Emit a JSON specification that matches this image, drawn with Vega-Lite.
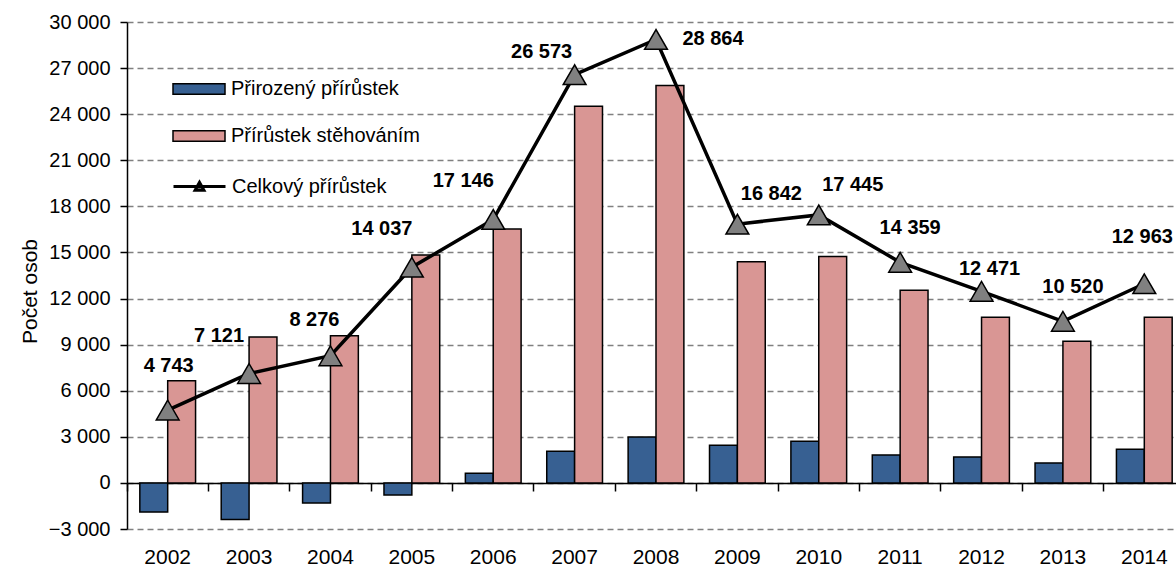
{
  "$schema": "https://vega.github.io/schema/vega-lite/v6.json",
  "width": 1049,
  "height": 507,
  "autosize": {"type": "none"},
  "padding": {"left": 127, "top": 22, "right": 0, "bottom": 37},
  "background": "white",
  "config": {
    "font": "Liberation Sans",
    "locale": {"number": {"decimal": ",", "thousands": " ", "grouping": [3], "currency": ["", " Kč"]}},
    "view": {"stroke": null}
  },
  "datasets": {
    "bars": [
      {"year": "2002", "series": "Přirozený přírůstek", "value": -1900},
      {"year": "2002", "series": "Přírůstek stěhováním", "value": 6643},
      {"year": "2003", "series": "Přirozený přírůstek", "value": -2380},
      {"year": "2003", "series": "Přírůstek stěhováním", "value": 9501},
      {"year": "2004", "series": "Přirozený přírůstek", "value": -1310},
      {"year": "2004", "series": "Přírůstek stěhováním", "value": 9586},
      {"year": "2005", "series": "Přirozený přírůstek", "value": -790},
      {"year": "2005", "series": "Přírůstek stěhováním", "value": 14827},
      {"year": "2006", "series": "Přirozený přírůstek", "value": 625},
      {"year": "2006", "series": "Přírůstek stěhováním", "value": 16521},
      {"year": "2007", "series": "Přirozený přírůstek", "value": 2056},
      {"year": "2007", "series": "Přírůstek stěhováním", "value": 24517},
      {"year": "2008", "series": "Přirozený přírůstek", "value": 2993},
      {"year": "2008", "series": "Přírůstek stěhováním", "value": 25871},
      {"year": "2009", "series": "Přirozený přírůstek", "value": 2446},
      {"year": "2009", "series": "Přírůstek stěhováním", "value": 14396},
      {"year": "2010", "series": "Přirozený přírůstek", "value": 2707},
      {"year": "2010", "series": "Přírůstek stěhováním", "value": 14738},
      {"year": "2011", "series": "Přirozený přírůstek", "value": 1822},
      {"year": "2011", "series": "Přírůstek stěhováním", "value": 12537},
      {"year": "2012", "series": "Přirozený přírůstek", "value": 1692},
      {"year": "2012", "series": "Přírůstek stěhováním", "value": 10779},
      {"year": "2013", "series": "Přirozený přírůstek", "value": 1301},
      {"year": "2013", "series": "Přírůstek stěhováním", "value": 9219},
      {"year": "2014", "series": "Přirozený přírůstek", "value": 2186},
      {"year": "2014", "series": "Přírůstek stěhováním", "value": 10777}
    ],
    "totals": [
      {"year": "2002", "total": 4743},
      {"year": "2003", "total": 7121},
      {"year": "2004", "total": 8276},
      {"year": "2005", "total": 14037},
      {"year": "2006", "total": 17146},
      {"year": "2007", "total": 26573},
      {"year": "2008", "total": 28864},
      {"year": "2009", "total": 16842},
      {"year": "2010", "total": 17445},
      {"year": "2011", "total": 14359},
      {"year": "2012", "total": 12471},
      {"year": "2013", "total": 10520},
      {"year": "2014", "total": 12963}
    ]
  },
  "encoding": {
    "x": {
      "field": "year", "type": "nominal",
      "scale": {"range": [0, 1058], "paddingInner": 0, "paddingOuter": 0},
      "axis": {
        "orient": "bottom", "offset": -46, "title": null, "grid": false,
        "labelAngle": 0, "labelFontSize": 21, "labelColor": "black", "labelPadding": 55,
        "domainColor": "black", "domainWidth": 1.5,
        "ticks": true, "bandPosition": 0, "tickColor": "black", "tickSize": 8, "tickWidth": 1.5
      }
    }
  },
  "layer": [
    {
      "data": {"name": "bars"},
      "mark": {"type": "bar", "stroke": "black", "strokeWidth": 1.5},
      "encoding": {
        "xOffset": {"field": "series", "type": "nominal", "sort": ["Přirozený přírůstek", "Přírůstek stěhováním"], "scale": {"paddingInner": 0, "paddingOuter": 0.46}},
        "y": {
          "field": "value", "type": "quantitative",
          "scale": {"domain": [-3000, 30000], "nice": false, "zero": false},
          "axis": {
            "values": [-3000, 0, 3000, 6000, 9000, 12000, 15000, 18000, 21000, 24000, 27000, 30000],
            "format": ",d",
            "grid": true, "gridDash": [6, 4], "gridColor": "#808080", "gridWidth": 1.3,
            "domainColor": "black", "domainWidth": 1.5,
            "tickColor": "black", "tickSize": 7, "tickWidth": 1.5,
            "labelFontSize": 20, "labelColor": "black", "labelPadding": 10,
            "title": "Počet osob", "titleFontSize": 21, "titleFontWeight": "normal", "titleColor": "black",
            "titlePadding": 8, "titleY": 269
          }
        },
        "color": {
          "field": "series", "type": "nominal", "sort": ["Přirozený přírůstek", "Přírůstek stěhováním"],
          "scale": {"domain": ["Přirozený přírůstek", "Přírůstek stěhováním"], "range": ["#376092", "#D99694"]},
          "legend": {
            "orient": "none", "legendX": 45, "legendY": 40, "title": null, "padding": 0,
            "symbolType": "M-1,-0.2H1V0.2H-1Z", "symbolSize": 2704,
            "symbolStrokeColor": "black", "symbolStrokeWidth": 1.5,
            "labelFontSize": 20, "labelColor": "black", "labelOffset": 5, "labelLimit": 400,
            "rowPadding": 10,
            "encode": {"symbols": {"update": {"stroke": {"value": "black"}, "strokeWidth": {"value": 1.5}}}}
          }
        }
      }
    },
    {
      "mark": {"type": "rule", "color": "black", "strokeWidth": 1.5},
      "encoding": {"y": {"datum": 30000}}
    },
    {
      "mark": {"type": "rule", "color": "black", "strokeWidth": 1.5},
      "encoding": {"y": {"datum": -3000}}
    },
    {
      "data": {"name": "totals"},
      "mark": {"type": "line", "strokeWidth": 3.5, "point": {"shape": "triangle-up", "size": 520, "filled": true, "fill": "#808080", "stroke": "black", "strokeWidth": 1.5}},
      "encoding": {
        "y": {"field": "total", "type": "quantitative"},
        "stroke": {
          "datum": "Celkový přírůstek", "type": "nominal",
          "scale": {"range": ["black"]},
          "legend": {
            "orient": "none", "legendX": 45, "legendY": 137, "title": null, "padding": 0,
            "symbolType": "M-1,0H1M-0.17,0.14L0,-0.16L0.17,0.14Z", "symbolSize": 2704,
            "symbolStrokeWidth": 3, "symbolFillColor": "#808080",
            "labelFontSize": 20, "labelColor": "black", "labelOffset": 5, "labelLimit": 400,
            "encode": {"symbols": {"update": {"fill": {"value": "#808080"}, "stroke": {"value": "black"}, "strokeWidth": {"value": 3}}}}
          }
        }
      }
    },
    {
      "data": {"name": "totals"},
      "transform": [{"filter": {"field": "year", "oneOf": ["2002"]}}],
      "mark": {"type": "text", "fontSize": 20, "fontWeight": "bold", "color": "black", "dx": 1, "dy": -44, "baseline": "middle"},
      "encoding": {"y": {"field": "total", "type": "quantitative"}, "text": {"field": "total", "type": "quantitative", "format": ",d"}}
    },
    {
      "data": {"name": "totals"},
      "transform": [{"filter": {"field": "year", "oneOf": ["2014"]}}],
      "mark": {"type": "text", "fontSize": 20, "fontWeight": "bold", "color": "black", "dx": -2, "dy": -47, "baseline": "middle"},
      "encoding": {"y": {"field": "total", "type": "quantitative"}, "text": {"field": "total", "type": "quantitative", "format": ",d"}}
    },
    {
      "data": {"name": "totals"},
      "transform": [{"filter": {"field": "year", "oneOf": ["2003", "2005", "2006"]}}],
      "mark": {"type": "text", "fontSize": 20, "fontWeight": "bold", "color": "black", "dx": -30, "dy": -38, "baseline": "middle"},
      "encoding": {"y": {"field": "total", "type": "quantitative"}, "text": {"field": "total", "type": "quantitative", "format": ",d"}}
    },
    {
      "data": {"name": "totals"},
      "transform": [{"filter": {"field": "year", "oneOf": ["2004"]}}],
      "mark": {"type": "text", "fontSize": 20, "fontWeight": "bold", "color": "black", "dx": -16, "dy": -36, "baseline": "middle"},
      "encoding": {"y": {"field": "total", "type": "quantitative"}, "text": {"field": "total", "type": "quantitative", "format": ",d"}}
    },
    {
      "data": {"name": "totals"},
      "transform": [{"filter": {"field": "year", "oneOf": ["2007"]}}],
      "mark": {"type": "text", "fontSize": 20, "fontWeight": "bold", "color": "black", "dx": -33, "dy": -23, "baseline": "middle"},
      "encoding": {"y": {"field": "total", "type": "quantitative"}, "text": {"field": "total", "type": "quantitative", "format": ",d"}}
    },
    {
      "data": {"name": "totals"},
      "transform": [{"filter": {"field": "year", "oneOf": ["2008"]}}],
      "mark": {"type": "text", "fontSize": 20, "fontWeight": "bold", "color": "black", "dx": 57, "dy": 0, "baseline": "middle"},
      "encoding": {"y": {"field": "total", "type": "quantitative"}, "text": {"field": "total", "type": "quantitative", "format": ",d"}}
    },
    {
      "data": {"name": "totals"},
      "transform": [{"filter": {"field": "year", "oneOf": ["2009", "2010"]}}],
      "mark": {"type": "text", "fontSize": 20, "fontWeight": "bold", "color": "black", "dx": 34, "dy": -30, "baseline": "middle"},
      "encoding": {"y": {"field": "total", "type": "quantitative"}, "text": {"field": "total", "type": "quantitative", "format": ",d"}}
    },
    {
      "data": {"name": "totals"},
      "transform": [{"filter": {"field": "year", "oneOf": ["2011", "2013"]}}],
      "mark": {"type": "text", "fontSize": 20, "fontWeight": "bold", "color": "black", "dx": 10, "dy": -34, "baseline": "middle"},
      "encoding": {"y": {"field": "total", "type": "quantitative"}, "text": {"field": "total", "type": "quantitative", "format": ",d"}}
    },
    {
      "data": {"name": "totals"},
      "transform": [{"filter": {"field": "year", "oneOf": ["2012"]}}],
      "mark": {"type": "text", "fontSize": 20, "fontWeight": "bold", "color": "black", "dx": 8, "dy": -22, "baseline": "middle"},
      "encoding": {"y": {"field": "total", "type": "quantitative"}, "text": {"field": "total", "type": "quantitative", "format": ",d"}}
    }
  ]
}
